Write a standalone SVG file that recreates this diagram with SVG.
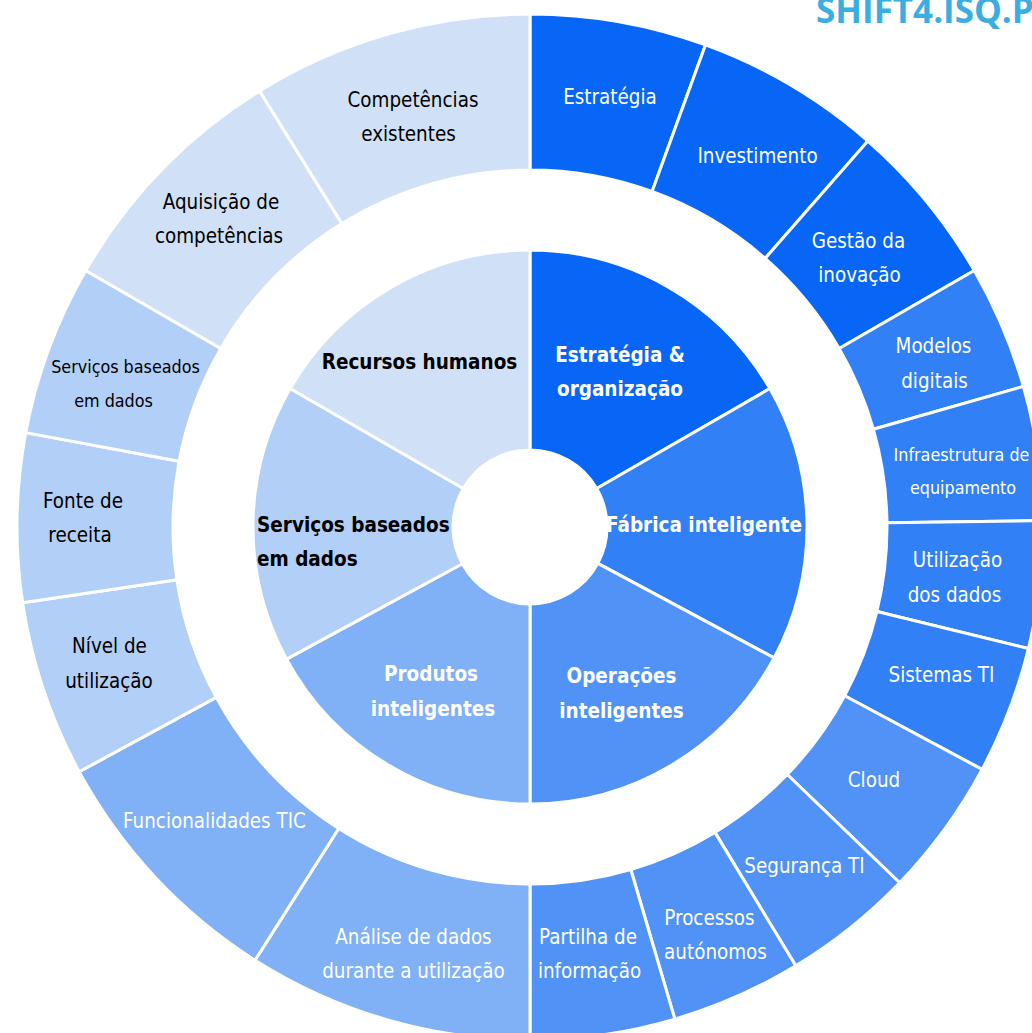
<svg xmlns="http://www.w3.org/2000/svg" width="1032" height="1033" viewBox="0 0 1032 1033">
<style>
.seg{stroke:#fff;stroke-width:3;stroke-linejoin:miter}
.c1{fill:#0866f6}.c2{fill:#3280f6}.c3{fill:#5192f6}.c4{fill:#80b0f6}.c5{fill:#b2cff7}.c6{fill:#d0e1f7}
text{font-family:"DejaVu Sans Condensed","DejaVu Sans",sans-serif;font-stretch:condensed;text-anchor:middle}
.o{font-size:20.4px}
.s{font-size:17.8px}
.b{font-size:20.5px;font-weight:bold}
.w{fill:#fff}.k{fill:#000}
.title{font-family:"Open Sans","Liberation Sans",sans-serif;font-stretch:normal;font-weight:bold;font-size:35px;fill:#3aaee2;text-anchor:start}
</style>
<rect width="1032" height="1033" fill="#fff"/>
<text class="title" x="816" y="23">SHIFT4.ISQ.P</text>

<g id="inner-ring">
<g id="n-estrategia-organizacao">
<path class="seg c1" d="M530,450 L530,250 A277,277 0 0 1 769.89,388.5 L596.68,488.5 A77,77 0 0 0 530,450 Z"/>
<text class="b w" x="620" y="361.5">Estratégia &amp;</text>
<text class="b w" x="620" y="396">organização</text>
</g>
<g id="n-fabrica-inteligente">
<path class="seg c2" d="M596.68,488.5 L769.89,388.5 A277,277 0 0 1 774.12,657.9 L597.86,563.39 A77,77 0 0 0 596.68,488.5 Z"/>
<text class="b w" x="704" y="532">Fábrica inteligente</text>
</g>
<g id="n-operacoes-inteligentes">
<path class="seg c3" d="M597.86,563.39 L774.12,657.9 A277,277 0 0 1 530,804 L530,604 A77,77 0 0 0 597.86,563.39 Z"/>
<text class="b w" x="621.5" y="683">Operações</text>
<text class="b w" x="621.5" y="717.5">inteligentes</text>
</g>
<g id="n-produtos-inteligentes">
<path class="seg c4" d="M530,604 L530,804 A277,277 0 0 1 286.56,659.18 L462.33,563.74 A77,77 0 0 0 530,604 Z"/>
<text class="b w" x="431" y="681">Produtos</text>
<text class="b w" x="433" y="715.5">inteligentes</text>
</g>
<g id="n-servicos-baseados-em-dados">
<path class="seg c5" d="M462.33,563.74 L286.56,659.18 A277,277 0 0 1 290.11,388.5 L463.32,488.5 A77,77 0 0 0 462.33,563.74 Z"/>
<text class="b k" x="257" y="531.5" style="text-anchor:start">Serviços baseados</text>
<text class="b k" x="257" y="566" style="text-anchor:start">em dados</text>
</g>
<g id="n-recursos-humanos">
<path class="seg c6" d="M463.32,488.5 L290.11,388.5 A277,277 0 0 1 530,250 L530,450 A77,77 0 0 0 463.32,488.5 Z"/>
<text class="b k" x="419.5" y="369">Recursos humanos</text>
</g>
</g>

<g id="outer-ring">
<g id="n-estrategia">
<path class="seg c1" d="M530,170 L530,14 A513,513 0 0 1 705.46,44.94 L652.1,191.53 A357,357 0 0 0 530,170 Z"/>
<text class="o w" x="610" y="104">Estratégia</text>
</g>
<g id="n-investimento">
<path class="seg c1" d="M652.1,191.53 L705.46,44.94 A513,513 0 0 1 867.91,141.01 L765.15,258.39 A357,357 0 0 0 652.1,191.53 Z"/>
<text class="o w" x="757.5" y="162.5">Investimento</text>
</g>
<g id="n-gestao-da-inovacao">
<path class="seg c1" d="M765.15,258.39 L867.91,141.01 A513,513 0 0 1 974.27,270.5 L839.17,348.5 A357,357 0 0 0 765.15,258.39 Z"/>
<text class="o w" x="858.5" y="248">Gestão da</text>
<text class="o w" x="859.5" y="282">inovação</text>
</g>
<g id="n-modelos-digitais">
<path class="seg c2" d="M839.17,348.5 L974.27,270.5 A513,513 0 0 1 1023.37,386.46 L873.34,429.2 A357,357 0 0 0 839.17,348.5 Z"/>
<text class="o w" x="933.5" y="353">Modelos</text>
<text class="o w" x="934.5" y="388">digitais</text>
</g>
<g id="n-infraestrutura-de-equipamento">
<path class="seg c2" d="M873.34,429.2 L1023.37,386.46 A513,513 0 0 1 1042.96,520.73 L886.97,522.64 A357,357 0 0 0 873.34,429.2 Z"/>
<text class="s w" x="961.5" y="460.5">Infraestrutura de</text>
<text class="s w" x="963" y="494">equipamento</text>
</g>
<g id="n-utilizacao-dos-dados">
<path class="seg c2" d="M886.97,522.64 L1042.96,520.73 A513,513 0 0 1 1028.41,648.5 L876.85,611.55 A357,357 0 0 0 886.97,522.64 Z"/>
<text class="o w" x="957.5" y="567">Utilização</text>
<text class="o w" x="954.5" y="601.5">dos dados</text>
</g>
<g id="n-sistemas-ti">
<path class="seg c2" d="M876.85,611.55 L1028.41,648.5 A513,513 0 0 1 982.11,769.42 L844.63,695.7 A357,357 0 0 0 876.85,611.55 Z"/>
<text class="o w" x="941.5" y="681.5">Sistemas TI</text>
</g>
<g id="n-cloud">
<path class="seg c3" d="M844.63,695.7 L982.11,769.42 A513,513 0 0 1 899.64,882.72 L787.24,774.54 A357,357 0 0 0 844.63,695.7 Z"/>
<text class="o w" x="874" y="786.5">Cloud</text>
</g>
<g id="n-seguranca-ti">
<path class="seg c3" d="M787.24,774.54 L899.64,882.72 A513,513 0 0 1 795.75,965.8 L714.94,832.37 A357,357 0 0 0 787.24,774.54 Z"/>
<text class="o w" x="804.5" y="872.5">Segurança TI</text>
</g>
<g id="n-processos-autonomos">
<path class="seg c3" d="M714.94,832.37 L795.75,965.8 A513,513 0 0 1 674.84,1019.14 L630.8,869.48 A357,357 0 0 0 714.94,832.37 Z"/>
<text class="o w" x="709.5" y="925">Processos</text>
<text class="o w" x="715.5" y="959">autónomos</text>
</g>
<g id="n-partilha-de-informacao">
<path class="seg c3" d="M630.8,869.48 L674.84,1019.14 A513,513 0 0 1 530,1040 L530,884 A357,357 0 0 0 630.8,869.48 Z"/>
<text class="o w" x="588" y="944">Partilha de</text>
<text class="o w" x="589.5" y="978">informação</text>
</g>
<g id="n-analise-de-dados">
<path class="seg c4" d="M530,884 L530,1040 A513,513 0 0 1 255.11,960.15 L338.71,828.43 A357,357 0 0 0 530,884 Z"/>
<text class="o w" x="413.5" y="944">Análise de dados</text>
<text class="o w" x="413.5" y="977.5">durante a utilização</text>
</g>
<g id="n-funcionalidades-tic">
<path class="seg c4" d="M338.71,828.43 L255.11,960.15 A513,513 0 0 1 79.15,771.79 L216.25,697.35 A357,357 0 0 0 338.71,828.43 Z"/>
<text class="o w" x="214.5" y="828">Funcionalidades TIC</text>
</g>
<g id="n-nivel-de-utilizacao">
<path class="seg c5" d="M216.25,697.35 L79.15,771.79 A513,513 0 0 1 22.64,602.83 L176.92,579.77 A357,357 0 0 0 216.25,697.35 Z"/>
<text class="o k" x="109.5" y="653">Nível de</text>
<text class="o k" x="109" y="687.5">utilização</text>
</g>
<g id="n-fonte-de-receita">
<path class="seg c5" d="M176.92,579.77 L22.64,602.83 A513,513 0 0 1 25.75,432.63 L179.09,461.33 A357,357 0 0 0 176.92,579.77 Z"/>
<text class="o k" x="83" y="508">Fonte de</text>
<text class="o k" x="80" y="541.5">receita</text>
</g>
<g id="n-servicos-baseados-em-dados-outer">
<path class="seg c5" d="M179.09,461.33 L25.75,432.63 A513,513 0 0 1 85.73,270.5 L220.83,348.5 A357,357 0 0 0 179.09,461.33 Z"/>
<text class="s k" x="125.5" y="373">Serviços baseados</text>
<text class="s k" x="113.5" y="406.5">em dados</text>
</g>
<g id="n-aquisicao-de-competencias">
<path class="seg c6" d="M220.83,348.5 L85.73,270.5 A513,513 0 0 1 259.67,91.01 L341.88,223.59 A357,357 0 0 0 220.83,348.5 Z"/>
<text class="o k" x="221" y="209">Aquisição de</text>
<text class="o k" x="219" y="242.5">competências</text>
</g>
<g id="n-competencias-existentes">
<path class="seg c6" d="M341.88,223.59 L259.67,91.01 A513,513 0 0 1 530,14 L530,170 A357,357 0 0 0 341.88,223.59 Z"/>
<text class="o k" x="413" y="106.5">Competências</text>
<text class="o k" x="408.5" y="140.5">existentes</text>
</g>
</g>
<g id="connectors"/>
</svg>
